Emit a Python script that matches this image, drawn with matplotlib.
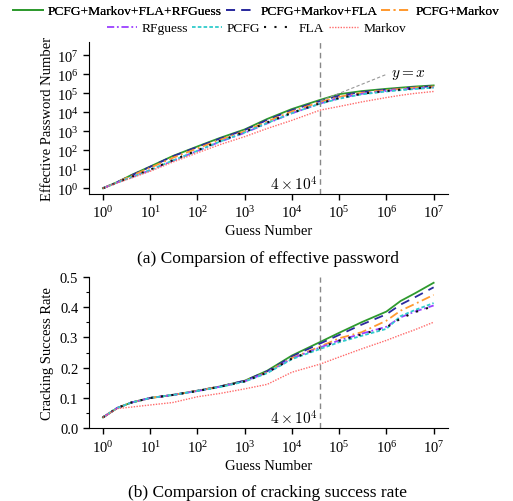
import matplotlib
matplotlib.use("Agg")
import matplotlib.pyplot as plt
from matplotlib.ticker import NullLocator, MultipleLocator, FixedLocator, FormatStrFormatter

plt.rcParams['font.family'] = ['Liberation Serif', 'DejaVu Serif']
plt.rcParams['mathtext.fontset'] = 'custom'
plt.rcParams['mathtext.rm'] = 'Liberation Serif'
plt.rcParams['mathtext.it'] = 'Liberation Serif:italic'
plt.rcParams['font.size'] = 10.5

# ---------------- data ----------------
guess = [1, 2, 4, 10, 30, 100, 300, 1000, 3000, 10000, 40000, 100000,
         300000, 1000000, 2000000, 4000000, 10000000]

series_names = ["PCFG+Markov+FLA+RFGuess", "PCFG+Markov+FLA", "PCFG+Markov",
                "RFguess", "PCFG", "FLA", "Markov"]

eff_all = [1, 2.1, 5, 14, 50, 160, 450, 1260, 4500, 15000, 46000, 91000, 132000, 174000, 200000, 229000, 263000]
eff_pmf = [1, 2.1, 4.8, 13.5, 48, 151, 417, 1175, 3980, 13200, 39800, 75900, 117000, 158000, 182000, 209000, 240000]
eff_pm = [1, 2.1, 4.5, 12, 40, 126, 355, 1000, 3310, 11200, 35500, 66000, 107000, 148000, 174000, 200000, 229000]
eff_rf = [1, 2, 3.8, 8.9, 28, 93, 282, 832, 2630, 8900, 29500, 56000, 95500, 135000, 158000, 182000, 209000]
eff_pcfg = [1, 2, 3.8, 9.1, 29, 95, 288, 871, 2750, 9100, 28800, 52500, 89000, 126000, 148000, 170000, 200000]
eff_fla = [1, 2, 4, 9.5, 30, 100, 316, 933, 2950, 9550, 30200, 57500, 95500, 135000, 158000, 182000, 209000]
eff_markov = [1, 1.9, 3.5, 7.9, 24, 74, 200, 525, 1410, 3800, 13200, 20400, 35500, 60300, 79400, 100000, 126000]

rate_all = [0.036, 0.067, 0.085, 0.100, 0.110, 0.124, 0.138, 0.157, 0.190, 0.240, 0.285, 0.315, 0.350, 0.385, 0.420, 0.445, 0.480]
rate_pmf = [0.036, 0.067, 0.085, 0.100, 0.110, 0.124, 0.138, 0.157, 0.188, 0.237, 0.280, 0.308, 0.342, 0.376, 0.408, 0.432, 0.465]
rate_pm = [0.036, 0.067, 0.085, 0.100, 0.110, 0.124, 0.137, 0.155, 0.185, 0.232, 0.270, 0.297, 0.317, 0.355, 0.388, 0.410, 0.440]
rate_rf = [0.036, 0.067, 0.085, 0.100, 0.110, 0.123, 0.137, 0.155, 0.184, 0.230, 0.267, 0.290, 0.312, 0.335, 0.366, 0.385, 0.405]
rate_pcfg = [0.036, 0.067, 0.085, 0.100, 0.110, 0.123, 0.136, 0.154, 0.182, 0.228, 0.262, 0.284, 0.305, 0.328, 0.370, 0.390, 0.413]
rate_fla = [0.036, 0.067, 0.085, 0.100, 0.110, 0.123, 0.137, 0.155, 0.184, 0.230, 0.266, 0.289, 0.310, 0.333, 0.362, 0.383, 0.403]
rate_markov = [0.036, 0.065, 0.070, 0.077, 0.085, 0.104, 0.115, 0.130, 0.145, 0.185, 0.212, 0.235, 0.262, 0.290, 0.308, 0.325, 0.350]

x_ticks = [1, 10, 100, 1000, 10000, 100000, 1000000, 10000000]
eff_ticks = [1, 10, 100, 1000, 10000, 100000, 1000000, 10000000]
rate_ticks = [0.0, 0.1, 0.2, 0.3, 0.4, 0.5]

threshold = 40000
yx_line = [40000, 1000000]

eff_series = [eff_all, eff_pmf, eff_pm, eff_rf, eff_pcfg, eff_fla, eff_markov]
rate_series = [rate_all, rate_pmf, rate_pm, rate_rf, rate_pcfg, rate_fla, rate_markov]

styles = [
    dict(color='#2e9a2e', ls='-', lw=1.3),
    dict(color='#2b2b9e', ls=(0, (5, 3.5)), lw=1.3),
    dict(color='#ff9a30', ls=(0, (5, 2, 1, 2)), lw=1.3),
    dict(color='#9b40ff', ls=(0, (4, 1.5, 1, 1.5)), lw=1.3),
    dict(color='#30cccc', ls=(0, (2, 1.2)), lw=1.3),
    dict(color='#111111', ls=(0, (1, 4)), lw=1.5),
    dict(color='#ff6a6a', ls=(0, (1, 1)), lw=1.0),
]

fig = plt.figure(figsize=(5.13, 5.02), dpi=100)
ax1 = fig.add_axes([0.173, 0.6116, 0.700, 0.3024])
ax2 = fig.add_axes([0.173, 0.1448, 0.700, 0.3020])

handles = []
for name, ys, st in zip(series_names, eff_series, styles):
    h, = ax1.plot(guess, ys, label=name, **st)
    handles.append(h)
for ys, st in zip(rate_series, styles):
    ax2.plot(guess, ys, **st)

# y = x reference
ax1.plot(yx_line, yx_line, color='#999999', ls=(0, (3, 2)), lw=0.8)
ax1.text(1.25e6, 1.0e6, r'$y=x$', math_fontfamily='cm', fontsize=11, va='center', ha='left')

for ax in (ax1, ax2):
    ax.axvline(threshold, color='#888888', ls=(0, (4, 3)), lw=1.0)
    ax.set_xscale('log')
    ax.set_xlim(0.5, 2e7)
    ax.xaxis.set_major_locator(FixedLocator(x_ticks))
    ax.xaxis.set_minor_locator(NullLocator())
    ax.spines['top'].set_visible(False)
    ax.spines['right'].set_visible(False)
    ax.tick_params(direction='out', length=4, width=1, labelsize=10.5)
    ax.tick_params(which='minor', direction='out', length=2.5, width=0.8)
    ax.set_xlabel('Guess Number', fontsize=10.5, labelpad=3)

ax1.set_yscale('log')
ax1.set_ylim(0.5, 5e7)
ax1.yaxis.set_major_locator(FixedLocator(eff_ticks))
ax1.yaxis.set_minor_locator(NullLocator())
ax1.set_ylabel('Effective Password Number', fontsize=10.5, labelpad=2)
ax1.text(threshold / 1.12, 0.62, r'$4\times10^4$', math_fontfamily='cm', fontsize=11,
         ha='right', va='bottom')

ax2.set_ylim(0, 0.5)
ax2.yaxis.set_major_locator(FixedLocator(rate_ticks))
ax2.yaxis.set_minor_locator(MultipleLocator(0.05))
ax2.yaxis.set_major_formatter(FormatStrFormatter('%.1f'))
ax2.set_ylabel('Cracking Success Rate', fontsize=10.5, labelpad=4)
ax2.text(threshold / 1.12, 0.004, r'$4\times10^4$', math_fontfamily='cm', fontsize=11,
         ha='right', va='bottom')

fig.text(0.522, 0.484, '(a) Comparsion of effective password', ha='center', va='center', fontsize=12.5)
fig.text(0.522, 0.018, '(b) Comparsion of cracking success rate', ha='center', va='center', fontsize=12.5)

leg_kw = dict(loc='center', frameon=False, handlelength=2.2, handletextpad=0.37,
              columnspacing=0.3, borderpad=0, borderaxespad=0, fontsize=9.7)
leg1 = fig.legend(handles[:3], series_names[:3], bbox_to_anchor=(0.5, 0.976), ncol=3, **leg_kw)
fig.add_artist(leg1)
leg2 = fig.legend(handles[3:], series_names[3:], bbox_to_anchor=(0.5, 0.942), ncol=4, **leg_kw)

fig.savefig('out.png', dpi=100)
